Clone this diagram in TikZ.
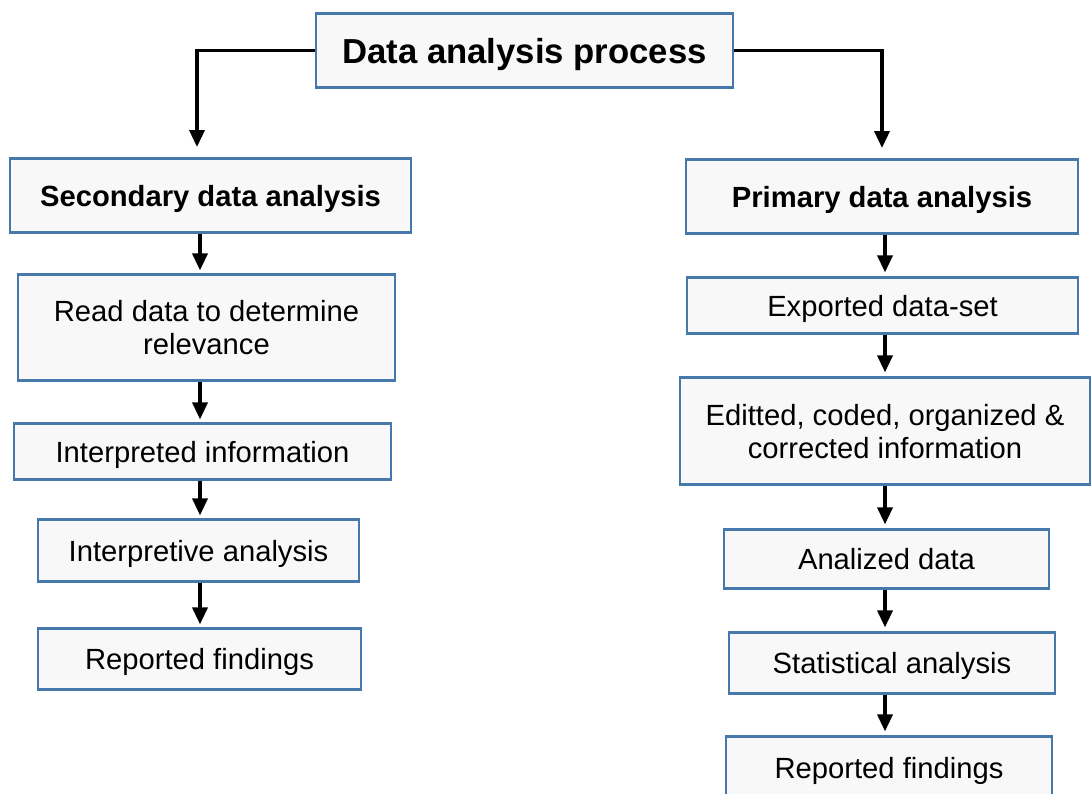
\documentclass[tikz,border=0pt]{standalone}
\usepackage{fontspec}
\setmainfont{Liberation Sans}
\usetikzlibrary{arrows.meta}
\definecolor{boxline}{RGB}{70,120,172}
\definecolor{boxfill}{RGB}{248,248,248}
\tikzset{
  box/.style={draw=boxline, line width=2.2pt, fill=boxfill, align=center, inner sep=0pt,
    text depth=0pt, yshift=-1.5pt,
    font=\fontsize{29.2}{33}\selectfont},
  boldbox/.style={box, font=\fontsize{29.2}{33}\selectfont\bfseries},
  arr/.style={line width=3.5pt, -{Triangle[length=17pt,width=15pt]}},
}
\begin{document}
\begin{tikzpicture}[x=1pt,y=-1pt]
\useasboundingbox (0,0) rectangle (1091,793);
\clip (0,0) rectangle (1091,793);
\node[box, font=\fontsize{34.7}{38}\selectfont\bfseries, minimum width=417, minimum height=74] (top) at (524.5,49) {Data analysis process};
% left column
\node[boldbox, minimum width=401, minimum height=74] (sec) at (210.5,194) {Secondary data analysis};
\node[box, minimum width=377, minimum height=106] (read) at (206.5,326) {Read data to determine\\relevance};
\node[box, minimum width=377, minimum height=56] (interp) at (202.5,450) {Interpreted information};
\node[box, minimum width=321, minimum height=62] (interan) at (198.5,549) {Interpretive analysis};
\node[box, minimum width=323, minimum height=61] (repl) at (199.5,657.5) {Reported findings};
% right column
\node[boldbox, minimum width=392, minimum height=74] (prim) at (882,195) {Primary data analysis};
\node[box, minimum width=391, minimum height=56] (exp) at (882.5,304) {Exported data-set};
\node[box, minimum width=410, minimum height=107] (edit) at (885,429.5) {Editted, coded, organized \&\\corrected information};
\node[box, minimum width=325, minimum height=59] (anal) at (886.5,557.5) {Analized data};
\node[box, minimum width=326, minimum height=61] (stat) at (892,661.5) {Statistical analysis};
\node[box, minimum width=326, minimum height=62] (repr) at (889,766) {Reported findings};
% helper coordinates
\coordinate (ltip) at (197,147);
\coordinate (rtip) at (882,148);
\coordinate (lx) at (200,0);
\coordinate (rx) at (885,0);
\draw[arr] (top.west) -| (ltip);
\draw[arr] (top.east) -| (rtip);
\foreach \a/\b in {sec/read, read/interp, interp/interan, interan/repl}{
  \draw[arr, shorten >=3pt] (\a.south -| lx) -- (\b.north -| lx);
}
\foreach \a/\b in {prim/exp, exp/edit, edit/anal, anal/stat, stat/repr}{
  \draw[arr, shorten >=4pt] (\a.south -| rx) -- (\b.north -| rx);
}
\end{tikzpicture}
\end{document}
